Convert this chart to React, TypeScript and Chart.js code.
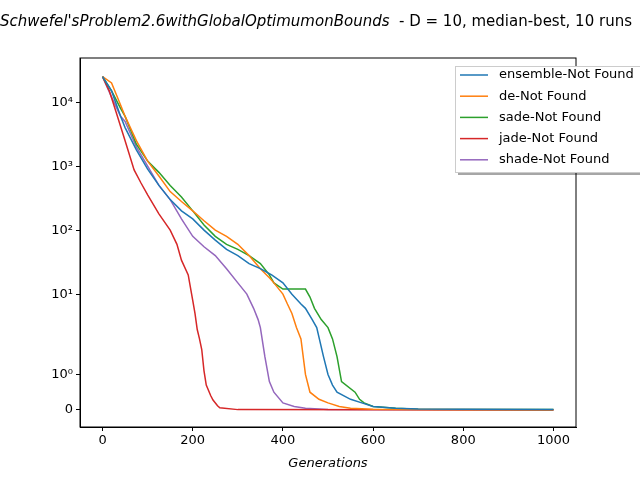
import { useRef, useEffect } from "react"
import { Chart, registerables } from "chart.js"

Chart.register(...registerables)

// symlog transform (base 10, linthresh 2, linscale 1) as matplotlib draws it
const LT = 2
const LS = 1 / (1 - 1 / 10)
const symlog = (v: number) => (v <= LT ? (v / LT) * LS : LS + Math.log10(v / LT))

const seriesNames = ["ensemble-Not Found", "de-Not Found", "sade-Not Found", "jade-Not Found", "shade-Not Found"]
const seriesColors = ["#1f77b4", "#ff7f0e", "#2ca02c", "#d62728", "#9467bd"]

const ensemble: [number, number][] = [
    [0, 25000], [20, 15000], [40, 6000], [50, 4000], [75, 1800], [100, 900], [125, 500], [150, 300], [175, 200], [200, 150],
    [225, 100], [250, 70], [275, 50], [300, 40], [325, 30], [350, 25], [375, 20], [400, 15], [420, 10], [440, 7], [450, 6],
    [465, 4], [475, 3], [490, 1.5], [500, 1], [510, 0.7], [520, 0.5], [550, 0.3], [575, 0.2], [600, 0.1], [650, 0.05],
    [700, 0.03], [800, 0.02], [1000, 0.01],
]
const de: [number, number][] = [
    [0, 25000], [20, 20000], [40, 9000], [50, 6000], [75, 2500], [100, 1200], [125, 700], [150, 400], [175, 280], [200, 200],
    [225, 140], [250, 100], [275, 80], [300, 60], [325, 40], [350, 25], [370, 18], [380, 15], [400, 10], [410, 7], [420, 5],
    [430, 3], [440, 2], [450, 1], [460, 0.5], [480, 0.3], [500, 0.2], [525, 0.1], [550, 0.05], [600, 0.02], [700, 0.01], [1000, 0.005],
]
const sade: [number, number][] = [
    [0, 25000], [20, 15000], [40, 8000], [50, 6000], [75, 2200], [100, 1200], [125, 800], [150, 500], [175, 330], [200, 200],
    [225, 120], [250, 80], [275, 60], [300, 50], [325, 40], [350, 30], [370, 20], [380, 15], [400, 12], [450, 12], [460, 9],
    [470, 6], [485, 4], [500, 3], [510, 2], [520, 1.5], [530, 0.8], [560, 0.5], [570, 0.3], [580, 0.2], [600, 0.1], [650, 0.05],
    [700, 0.02], [1000, 0.01],
]
const jade: [number, number][] = [
    [0, 25000], [15, 15000], [30, 7000], [50, 2500], [70, 875], [85, 550], [100, 356], [125, 180], [150, 100], [165, 60],
    [175, 34], [190, 20], [200, 8], [205, 5], [210, 2.8], [215, 2], [220, 1.7], [225, 1.1], [230, 0.7], [240, 0.4], [245, 0.28],
    [255, 0.12], [260, 0.06], [300, 0.01], [1000, 0],
]
const shade: [number, number][] = [
    [0, 25000], [20, 12000], [40, 6000], [50, 5000], [75, 2000], [100, 1000], [125, 500], [150, 300], [175, 150], [200, 80],
    [225, 55], [250, 40], [275, 25], [300, 15], [320, 10], [335, 6], [345, 4], [350, 3], [360, 1.5], [370, 0.8], [380, 0.5],
    [400, 0.2], [425, 0.1], [450, 0.05], [500, 0.01], [1000, 0.005],
]
const allSeries = [ensemble, de, sade, jade, shade]

const yTickValues = [0, 1, 10, 100, 1000, 10000]
const yTickLabels = ["0", "10⁰", "10¹", "10²", "10³", "10⁴"]
const xTickValues = [0, 200, 400, 600, 800, 1000]

const FONT = "'DejaVu Sans', sans-serif"

const framePlugin = {
    id: "frame",
    afterDraw(chart: Chart) {
        const { ctx, chartArea: a } = chart
        ctx.save()
        ctx.strokeStyle = "#000"
        ctx.lineWidth = 1
        ctx.strokeRect(a.left, a.top, a.right - a.left, a.bottom - a.top)

        // title (clipped by the canvas edges like the original)
        const part1 = "Schwefel'sProblem2.6withGlobalOptimumonBounds"
        const part2 = "  - D = 10, median-best, 10 runs"
        ctx.font = `italic 15px ${FONT}`
        const w1 = ctx.measureText(part1).width
        ctx.font = `15px ${FONT}`
        const w2 = ctx.measureText(part2).width
        const x0 = (a.left + a.right) / 2 - (w1 + w2) / 2 - 12
        ctx.fillStyle = "#000"
        ctx.textBaseline = "middle"
        ctx.textAlign = "left"
        ctx.font = `italic 15px ${FONT}`
        ctx.fillText(part1, x0, 22)
        ctx.font = `15px ${FONT}`
        ctx.fillText(part2, x0 + w1, 22)

        // legend
        const lx = 455, ly = 66, lw = 200, lh = 106
        ctx.fillStyle = "rgba(0,0,0,0.35)"
        ctx.fillRect(lx + 3, ly + 3, lw, lh)
        ctx.fillStyle = "#fff"
        ctx.fillRect(lx, ly, lw, lh)
        ctx.strokeStyle = "#ccc"
        ctx.strokeRect(lx + 0.5, ly + 0.5, lw, lh)
        ctx.font = `13px ${FONT}`
        seriesNames.forEach((n, i) => {
            const y = ly + 9 + i * 21.2
            ctx.strokeStyle = seriesColors[i]
            ctx.lineWidth = 1.5
            ctx.beginPath()
            ctx.moveTo(460, y)
            ctx.lineTo(488, y)
            ctx.stroke()
            ctx.fillStyle = "#000"
            ctx.fillText(n, 499, y)
        })
        ctx.restore()
    },
}

export default function App() {
    const chartRef = useRef<HTMLCanvasElement | null>(null)

    useEffect(() => {
        if (!chartRef.current) return
        const chart = new Chart(chartRef.current, {
            type: "scatter",
            data: {
                datasets: allSeries.map((s, i) => ({
                    label: seriesNames[i],
                    data: s.map(([x, y]) => ({ x, y: symlog(y) })),
                    showLine: true,
                    borderColor: seriesColors[i],
                    borderWidth: 1.5,
                    pointRadius: 0,
                })),
            },
            options: {
                animation: false,
                responsive: false,
                layout: { padding: { top: 58, right: 64, left: 0, bottom: 0 } },
                plugins: { legend: { display: false }, tooltip: { enabled: false } },
                scales: {
                    x: {
                        type: "linear",
                        min: -50,
                        max: 1050,
                        afterBuildTicks: (s) => {
                            s.ticks = xTickValues.map((v) => ({ value: v }))
                        },
                        afterFit: (s) => {
                            s.height = 53
                        },
                        ticks: { color: "#000", font: { family: FONT, size: 13 }, maxRotation: 0, padding: 2, callback: (v) => String(v) },
                        grid: { drawOnChartArea: false, tickLength: 4, color: "#000" },
                        border: { color: "#000" },
                        title: { display: true, text: "Generations", color: "#000", font: { family: FONT, size: 13, style: "italic" }, padding: { top: 0, bottom: 9 } },
                    },
                    y: {
                        type: "linear",
                        min: -0.266,
                        max: 5.5,
                        afterBuildTicks: (s) => {
                            s.ticks = yTickValues.map((v) => ({ value: symlog(v) }))
                        },
                        afterFit: (s) => {
                            s.width = 80
                        },
                        ticks: {
                            color: "#000",
                            font: { family: FONT, size: 13 },
                            callback: (_v, i) => yTickLabels[i],
                        },
                        grid: { drawOnChartArea: false, tickLength: 4, color: "#000" },
                        border: { color: "#000" },
                    },
                },
            },
            plugins: [framePlugin],
        })
        return () => chart.destroy()
    }, [])

    return (
        <div style={{ position: "fixed", left: 0, top: 0, width: 640, height: 480, background: "#fff" }}>
            <canvas ref={chartRef} width={640} height={480} />
        </div>
    )
}
